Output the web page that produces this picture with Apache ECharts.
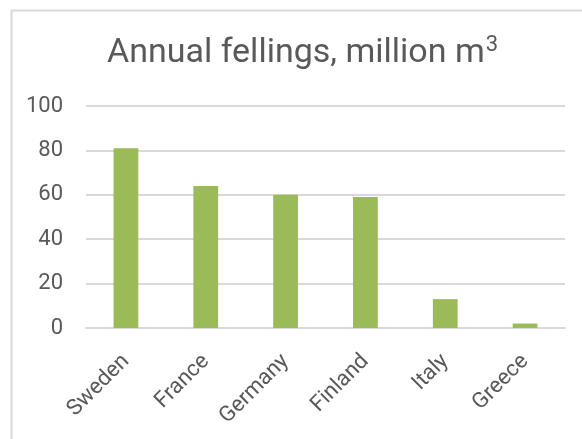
<!DOCTYPE html>
<html><head><meta charset="utf-8">
<script src="https://cdn.jsdelivr.net/npm/echarts@6/dist/echarts.min.js"></script>
<style>html,body{margin:0;padding:0;background:#fff}#c{width:582px;height:439px}</style>
</head><body><div id="c"></div>
<script>
const categories = ['Sweden', 'France', 'Germany', 'Finland', 'Italy', 'Greece'];
const fellings = [81, 64, 60, 59, 13, 2];
const yTicks = [0, 20, 40, 60, 80, 100];

const chart = echarts.init(document.getElementById('c'));
chart.setOption({
  animation: false,
  graphic: [{
    type: 'rect', left: 9, top: 8, shape: { width: 620, height: 500 },
    style: { fill: 'none', stroke: '#d9d9d9', lineWidth: 2 }, z: -1
  }],
  title: {
    text: 'Annual fellings, million m{sup|3}',
    left: 102, top: 29,
    textStyle: {
      fontFamily: 'Roboto', fontSize: 34, fontWeight: 'normal', color: '#595959',
      rich: { sup: { fontFamily: 'Roboto', fontSize: 22, color: '#595959', verticalAlign: 'top', padding: [0, 0, 16, 1] } }
    }
  },
  grid: { left: 86, right: 17, top: 106, bottom: 111 },
  xAxis: {
    type: 'category', data: categories,
    axisLine: { lineStyle: { color: '#d9d9d9', width: 2 } },
    axisTick: { show: false },
    axisLabel: { rotate: 45, color: '#595959', fontFamily: 'Roboto', fontSize: 22, margin: 30, verticalAlign: 'middle' }
  },
  yAxis: {
    type: 'value', min: yTicks[0], max: yTicks[yTicks.length - 1], interval: 20,
    axisLine: { show: false }, axisTick: { show: false },
    splitLine: { lineStyle: { color: '#d9d9d9', width: 2 } },
    axisLabel: { color: '#595959', fontFamily: 'Roboto', fontSize: 22, margin: 23 }
  },
  series: [{
    type: 'bar', data: fellings, barWidth: '31%',
    itemStyle: { color: '#9bbb59' }
  }]
});
</script></body></html>
